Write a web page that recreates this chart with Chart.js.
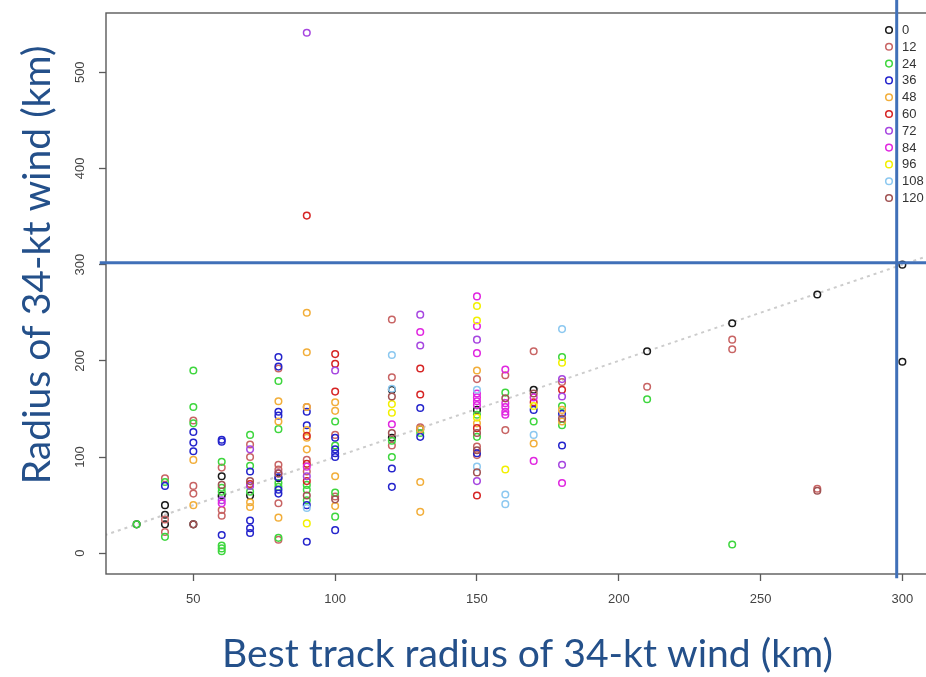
<!DOCTYPE html>
<html><head><meta charset="utf-8">
<script src="https://cdn.jsdelivr.net/npm/chart.js@4"></script>
<style>
html,body{margin:0;padding:0;background:#fff;overflow:hidden;width:926px;height:677px}
#wrap{position:absolute;left:0;top:0;width:940px;height:677px}
</style>
</head><body><div id="wrap"><canvas id="c" width="940" height="677"></canvas></div>
<script>
// ---- data ----
const leadTimes = ['0','12','24','36','48','60','72','84','96','108','120'];
const leadColors = ['#1a1a1a','#C86464','#3ED63E','#2424CC','#F2AE3A','#D62424','#A646E0','#E026E0','#F2F000','#8CC8F0','#A05252'];
const lead0 = [[30,30],[40,50],[40,40],[40,30],[50,30],[60,80],[60,60],[70,60],[80,78],[120,170],[120,120],[130,129],[150,149],[170,170],[210,210],[240,239],[270,269],[300,300],[300,199]];
const lead12 = [[40,78],[40,35],[40,22],[50,138],[50,70],[50,62],[60,89],[60,45],[60,39],[70,113],[70,100],[80,192],[80,92],[80,87],[80,52],[80,14],[90,152],[90,97],[90,85],[100,123],[100,59],[120,243],[120,183],[120,112],[130,131],[150,181],[150,111],[150,102],[160,185],[160,128],[170,210],[180,178],[210,173],[240,222],[240,212],[270,67]];
const lead24 = [[30,30],[40,74],[40,17],[50,190],[50,152],[50,135],[60,95],[60,68],[60,64],[60,8],[60,5],[60,2],[70,123],[70,91],[70,64],[80,179],[80,129],[80,73],[80,69],[80,16],[90,71],[90,66],[90,55],[100,137],[100,112],[100,63],[100,38],[120,117],[120,100],[130,125],[150,144],[150,121],[160,167],[170,137],[180,204],[180,153],[180,133],[210,160],[240,9]];
const lead36 = [[40,70],[50,126],[50,115],[50,106],[60,118],[60,116],[60,19],[70,85],[70,34],[70,26],[70,21],[80,204],[80,194],[80,147],[80,143],[80,79],[80,66],[80,62],[90,147],[90,133],[90,50],[90,12],[100,120],[100,108],[100,104],[100,100],[100,24],[120,88],[120,69],[130,151],[130,121],[150,104],[170,149],[180,145],[180,112]];
const lead48 = [[50,97],[50,50],[70,53],[70,48],[80,158],[80,137],[80,37],[90,250],[90,209],[90,152],[90,128],[90,120],[90,108],[100,157],[100,148],[100,80],[100,49],[130,129],[130,74],[130,43],[150,190],[150,135],[170,114],[180,149],[180,137]];
const lead60 = [[70,72],[90,351],[90,122],[90,93],[90,75],[100,207],[100,197],[100,168],[130,192],[130,165],[150,130],[150,60],[170,157],[180,170]];
const lead72 = [[60,55],[70,108],[70,70],[80,83],[90,541],[90,80],[100,190],[130,248],[130,216],[150,222],[150,75],[180,181],[180,163],[180,92]];
const lead84 = [[60,52],[90,90],[120,134],[130,230],[150,267],[150,236],[150,208],[150,166],[150,162],[150,158],[150,154],[160,191],[160,156],[160,152],[160,147],[160,144],[170,162],[170,96],[180,73]];
const lead96 = [[90,31],[120,155],[120,146],[150,257],[150,242],[150,141],[160,87],[170,153],[180,198]];
const lead108 = [[90,47],[120,206],[120,171],[150,170],[150,90],[160,61],[160,51],[170,123],[180,233]];
const lead120 = [[50,30],[60,71],[70,75],[80,83],[90,60],[100,56],[120,163],[120,125],[150,125],[150,107],[150,84],[160,161],[170,166],[180,140],[270,65]];
const seriesValues = [lead0,lead12,lead24,lead36,lead48,lead60,lead72,lead84,lead96,lead108,lead120];
const refLine = [[0,0],[330,330]];           // 1:1 line
const xTicks = [50,100,150,200,250,300];
const yTicks = [0,100,200,300,400,500];
const xTitle = 'Best track radius of 34-kt wind (km)';
const yTitle = 'Radius of 34-kt wind (km)';
const guideH = {y:302, from:17, to:330};      // overlay blue line (data units)
const guideV = {x:298, from:-26, to:576};

// ---- chart ----
const toPts = a => a.map(p => ({x:p[0], y:p[1]}));
const datasets = seriesValues.map((vals,i) => ({
  label: leadTimes[i], data: toPts(vals), showLine:false,
  pointStyle:'circle', pointRadius:3.3, pointBorderWidth:1.5,
  borderColor: leadColors[i], backgroundColor:'rgba(0,0,0,0)',
  pointBackgroundColor:'rgba(0,0,0,0)', pointBorderColor: leadColors[i],
  order: -i
}));
datasets.push({type:'line', label:'1:1', data: toPts(refLine), borderColor:'#cccccc',
  borderWidth:2, borderDash:[3,4], pointRadius:0, fill:false, order:100});

const TICKFONT = '13px "Liberation Sans", Arial, sans-serif';
const overlay = {
  id:'overlay',
  afterDraw(chart){
    const c = chart.ctx, a = chart.chartArea, xs = chart.scales.x, ys = chart.scales.y;
    c.save();
    // frame
    c.strokeStyle = '#5a5a5a'; c.lineWidth = 1.4;
    c.strokeRect(a.left, a.top, a.right - a.left, a.bottom - a.top);
    // y tick labels (rotated)
    c.fillStyle = '#444'; c.font = TICKFONT; c.textAlign = 'center'; c.textBaseline = 'middle';
    yTicks.forEach(v => {
      c.save(); c.translate(80, ys.getPixelForValue(v)); c.rotate(-Math.PI/2);
      c.fillText(String(v), 0, 0); c.restore();
    });
    // legend
    c.textAlign = 'left';
    leadTimes.forEach((t,i) => {
      const yy = 30 + i*16.8;
      c.beginPath(); c.arc(889, yy, 3.3, 0, Math.PI*2);
      c.strokeStyle = leadColors[i]; c.lineWidth = 1.5; c.stroke();
      c.fillStyle = '#333'; c.fillText(t, 902, yy + 0.5);
    });
    // axis titles
    c.font = '100px Lato, "Open Sans", sans-serif';
    const fs = 100 * 611 / c.measureText(xTitle).width;
    c.font = fs.toFixed(2) + 'px Lato, "Open Sans", sans-serif';
    c.fillStyle = '#24508A'; c.textBaseline = 'alphabetic'; c.textAlign = 'center';
    c.fillText(xTitle, 527.5, 667);
    c.save(); c.translate(50, 265); c.rotate(-Math.PI/2); c.fillText(yTitle, 0, 0); c.restore();
    // blue guide lines
    c.strokeStyle = '#4070B8'; c.lineWidth = 3;
    c.beginPath();
    c.moveTo(xs.getPixelForValue(guideH.from), ys.getPixelForValue(guideH.y));
    c.lineTo(xs.getPixelForValue(guideH.to), ys.getPixelForValue(guideH.y));
    c.stroke();
    c.beginPath();
    c.moveTo(xs.getPixelForValue(guideV.x), ys.getPixelForValue(guideV.to));
    c.lineTo(xs.getPixelForValue(guideV.x), ys.getPixelForValue(guideV.from));
    c.stroke();
    c.restore();
  }
};

new Chart(document.getElementById('c'), {
  type:'scatter',
  data:{datasets},
  options:{
    responsive:false, animation:false, devicePixelRatio:1,
    layout:{padding:{top:13, right:7, left:0, bottom:0}},
    plugins:{legend:{display:false}, tooltip:{enabled:false}, title:{display:false}},
    scales:{
      x:{type:'linear', min:19.2, max:310.8,
         afterFit(s){ s.height = 103; },
         afterBuildTicks(s){ s.ticks = xTicks.map(v => ({value:v})); },
         grid:{drawOnChartArea:false, tickLength:7, tickColor:'#5a5a5a', tickWidth:1.3},
         border:{display:false},
         ticks:{font:{family:'"Liberation Sans", Arial, sans-serif', size:13}, color:'#444', padding:11, maxRotation:0, autoSkip:false}},
      y:{type:'linear', min:-21.6, max:561.6,
         afterFit(s){ s.width = 106; },
         afterBuildTicks(s){ s.ticks = yTicks.map(v => ({value:v})); },
         grid:{drawOnChartArea:false, tickLength:7, tickColor:'#5a5a5a', tickWidth:1.3},
         border:{display:false},
         ticks:{display:false}}
    }
  },
  plugins:[overlay]
});
</script></body></html>
